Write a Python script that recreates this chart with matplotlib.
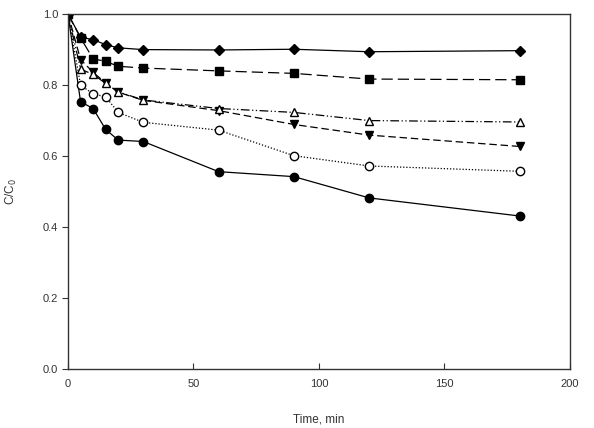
import matplotlib
matplotlib.use("Agg")
import matplotlib.pyplot as plt

plt.rcParams["font.family"] = ["Liberation Sans", "DejaVu Sans"]

time_min = [0, 5, 10, 15, 20, 30, 60, 90, 120, 180]

diamond = [1.0, 0.935, 0.928, 0.914, 0.905, 0.900, 0.899, 0.901, 0.894, 0.897]
square = [1.0, 0.933, 0.874, 0.867, 0.853, 0.848, 0.840, 0.833, 0.817, 0.815]
tri_up = [1.0, 0.845, 0.830, 0.805, 0.781, 0.758, 0.734, 0.723, 0.700, 0.696]
tri_down = [1.0, 0.872, 0.836, 0.806, 0.780, 0.757, 0.728, 0.689, 0.659, 0.627]
circ_open = [1.0, 0.800, 0.775, 0.767, 0.723, 0.695, 0.673, 0.601, 0.572, 0.557]
circ_fill = [1.0, 0.753, 0.734, 0.675, 0.645, 0.641, 0.556, 0.542, 0.482, 0.431]

fig = plt.figure(figsize=(5.94, 4.28), dpi=100)
ax = fig.add_axes([0.1145, 0.138, 0.845, 0.829])

ms = 5.5
lw = 0.9
ax.plot(time_min, circ_fill, color="black", lw=lw, ls="-", marker="o",
        ms=ms + 0.5, mfc="black", mec="black")
ax.plot(time_min, circ_open, color="black", lw=lw, ls=(0, (1, 1.5)), marker="o",
        ms=ms + 0.5, mfc="white", mec="black")
ax.plot(time_min, tri_down, color="black", lw=lw, ls=(0, (6, 3)), marker="v",
        ms=ms + 0.5, mfc="black", mec="black")
ax.plot(time_min, tri_up, color="black", lw=lw, ls=(0, (7, 2, 1, 2, 1, 2)), marker="^",
        ms=ms + 0.5, mfc="white", mec="black")
ax.plot(time_min, square, color="black", lw=lw, ls=(0, (9, 4)), marker="s",
        ms=ms, mfc="black", mec="black")
ax.plot(time_min, diamond, color="black", lw=lw, ls="-", marker="D",
        ms=ms - 0.5, mfc="black", mec="black")

ax.set_xlim(0, 200)
ax.set_ylim(0, 1.0)
ax.set_xticks([0, 50, 100, 150, 200])
ax.set_yticks([0.0, 0.2, 0.4, 0.6, 0.8, 1.0])
ax.yaxis.set_major_formatter(plt.FuncFormatter(lambda v, _: f"{v:.1f}"))
ax.tick_params(axis="x", direction="in", length=4, labelsize=8, pad=7, color="#333333")
ax.tick_params(axis="y", direction="out", length=4, labelsize=8, pad=3, color="#333333")
for lbl in ax.get_xticklabels() + ax.get_yticklabels():
    lbl.set_color("#333333")
for sp in ax.spines.values():
    sp.set_color("#333333")
    sp.set_linewidth(1.0)

ax.set_xlabel("Time, min", fontsize=8.5, labelpad=18, color="#333333")
ax.set_ylabel("C/C$_0$", fontsize=8.5, color="#333333")
ax.yaxis.set_label_coords(-0.098, 0.5)

fig.savefig("out.png", dpi=100)
